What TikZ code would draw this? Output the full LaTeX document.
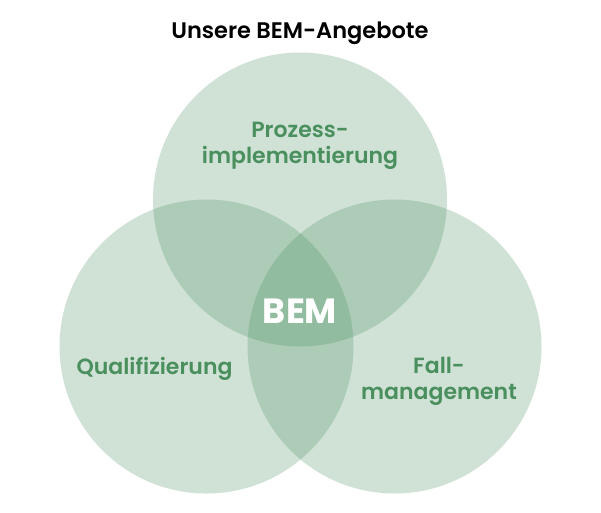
\documentclass[tikz,border=0pt]{standalone}
\usepackage{fontspec}
\setmainfont{Poppins}[UprightFont=*-Medium, BoldFont=*-SemiBold]
\newfontfamily\bemfont{Poppins}[UprightFont=*-Bold]
\definecolor{bemgreen}{RGB}{67,139,91}
\definecolor{bemtext}{RGB}{74,143,94}

\begin{document}
\begin{tikzpicture}[
    x=1pt, y=-1pt,
    area/.style={circle, minimum size=294pt, inner sep=0pt, fill=bemgreen, fill opacity=0.25},
    label/.style={anchor=base, align=center, text=bemtext, font=\fontsize{22}{26}\selectfont\bfseries},
]
\useasboundingbox (0,0) rectangle (601,512);

\node[area] (top) at (300,199.5) {};
\node[area] (left) at (206.5,346.5) {};
\node[area] (right) at (394.5,346.5) {};

\node[anchor=base, font=\fontsize{22.5}{26}\selectfont\bfseries] (title) at (300,38) {Unsere BEM-Angebote};

% zweizeilige Knoten: Grundlinie der letzten Zeile
\node[label] (prozess) at (300,163) {Prozess-\\implementierung};
\node[label] (quali) at (154.5,374) {Qualifizierung};
\node[label] (fall) at (439,399) {Fall-\\management};

\node[anchor=base, text=white, font=\fontsize{35}{40}\bemfont] (bem) at (300,323) {BEM};

\end{tikzpicture}
\end{document}
